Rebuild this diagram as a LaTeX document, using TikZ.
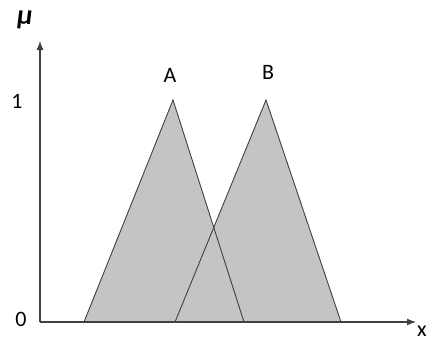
\documentclass[tikz,border=0pt]{standalone}
\usepackage{fontspec}
\setmainfont{Carlito}
\usetikzlibrary{arrows.meta}

\tikzset{
	axis/.style={draw=black!75, line width=1.1pt, -{Latex[length=9pt,width=7pt]}},
	member/.style={draw=black!75, line width=0.9pt},
	lbl/.style={font=\fontsize{22}{24}\selectfont, inner sep=0pt}
}

\begin{document}
\begin{tikzpicture} [x=1pt, y=-1pt]
	\useasboundingbox (0,0) rectangle (427,351);
	
	\coordinate (o) at (40,322);
	\coordinate (ytop) at (40,41);
	\coordinate (xend) at (416,322);
	
	% triangles A and B
	\coordinate (a1) at (84,322);
	\coordinate (a2) at (173,100);
	\coordinate (a3) at (244,322);
	\coordinate (b1) at (175,322);
	\coordinate (b2) at (266,100);
	\coordinate (b3) at (341,322);
	
	\fill[black!23] (a1) -- (a2) -- (a3) -- cycle;
	\fill[black!23] (b1) -- (b2) -- (b3) -- cycle;
	\draw[member] (a1) -- (a2) -- (a3);
	\draw[member] (b1) -- (b2) -- (b3);
	
	\draw[axis] (o) -- (ytop);
	\draw[axis] (o) -- (xend);
	
	\node[lbl, font=\fontsize{28}{30}\selectfont\itshape\bfseries] (mu) at (25,20) {μ};
	\node[lbl] (one) at (17,101) {1};
	\node[lbl] (zero) at (21,319) {0};
	\node[lbl] (labA) at (170,75) {A};
	\node[lbl] (labB) at (268,72) {B};
	\node[lbl, anchor=west] (xl) at (417,331) {x};
\end{tikzpicture}
\end{document}
